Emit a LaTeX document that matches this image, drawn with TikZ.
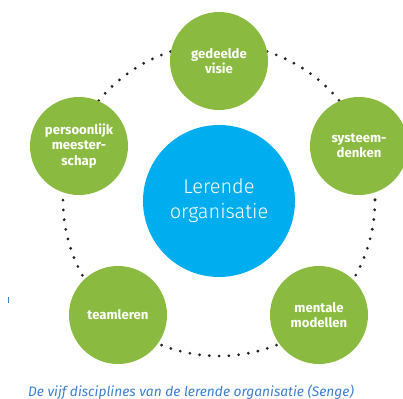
\documentclass[tikz,border=0pt]{standalone}
\usepackage{fontspec}
\setmainfont{Fira Sans}
\newfontfamily\lightfont{Fira Sans Light}
\definecolor{dgreen}{HTML}{8ABB40}
\definecolor{dblue}{HTML}{00AEEF}
\definecolor{capblue}{HTML}{3C7FD0}
\definecolor{dotgray}{HTML}{222222}
\tikzset{
  disc/.style={circle, fill=dgreen, minimum size=98bp, inner sep=0pt, text=white,
    align=center, font=\bfseries\fontsize{13.2}{15.5}\selectfont},
  core/.style={circle, fill=dblue, minimum size=152bp, inner sep=0pt, text=white,
    align=center, font=\lightfont\fontsize{20}{25}\selectfont},
  ring/.style={draw=dotgray, line width=3.1bp, line cap=round, dash pattern=on 0pt off 9.8bp}
}
\begin{document}
\begin{tikzpicture}[x=1bp,y=-1bp]
\useasboundingbox (0,0) rectangle (403,399);
\coordinate (ctr) at (219,200);
\draw[ring] (ctr) circle[radius=156];
\node[core] (lo) at (219,201) {Lerende\\organisatie};
\node[disc] (gv) at (219,61) {gedeelde\\visie};
\node[disc] (pm) at (79,146) {persoonlijk\\meester-\\schap};
\node[disc] (sd) at (359,146) {systeem-\\denken};
\node[disc] (tl) at (118,315) {teamleren};
\node[disc] (mm) at (319,315) {mentale\\modellen};
\node[text=capblue, font=\itshape\fontsize{13.8}{16}\selectfont, anchor=base] (cap) at (191,396) {De vijf disciplines van de lerende organisatie (Senge)};
\coordinate (m1) at (8,297);
\coordinate (m2) at (8,303);
\draw[capblue, line width=0.8bp] (m1) -- (m2);
\end{tikzpicture}
\end{document}
